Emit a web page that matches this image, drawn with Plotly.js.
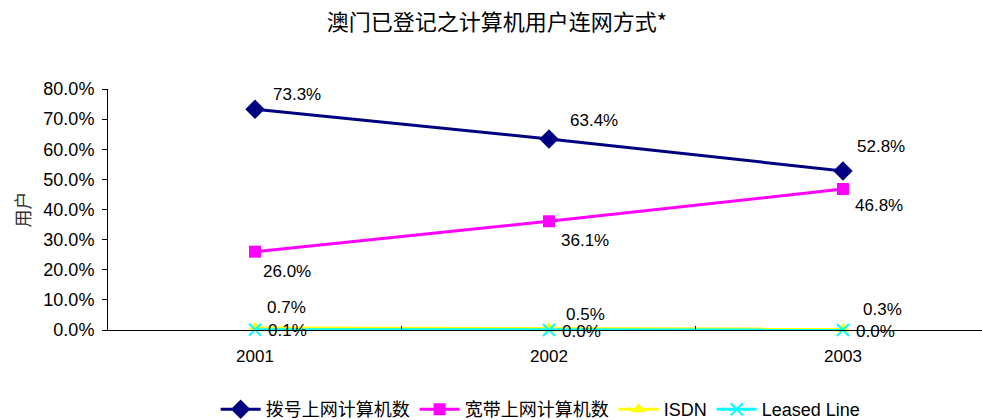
<!DOCTYPE html>
<html><head><meta charset="utf-8">
<script src="https://cdn.plot.ly/plotly-3.0.1.min.js"></script>
<style>body{margin:0;padding:0;background:#fff}#chart{width:982px;height:420px}</style>
</head><body><div id="chart"></div>
<script>
const years = ['2001', '2002', '2003'];
const dialup = [73.3, 63.4, 52.8];
const broadband = [26.0, 36.1, 46.8];
const isdn = [0.7, 0.5, 0.3];
const leased = [0.1, 0.0, 0.0];
const names = ['拨号上网计算机数', '宽带上网计算机数', 'ISDN', 'Leased Line'];
const yTicks = [0, 10, 20, 30, 40, 50, 60, 70, 80];

const font = '"Liberation Sans", Arial, sans-serif';
const cjk = '"Noto Sans CJK SC", sans-serif';
const mixed = '"Liberation Sans", "Noto Sans CJK SC", sans-serif';

function tr(y, name, color, symbol, size) {
  return {x: years, y: y, name: name, type: 'scatter', mode: 'lines+markers',
    line: {color: color, width: 3},
    marker: {color: color, symbol: symbol, size: size, line: {color: color, width: symbol === 'x-thin' ? 2 : 0}},
    cliponaxis: false};
}
const traces = [
  tr(dialup, names[0], '#000080', 'diamond', 15),
  tr(broadband, names[1], '#FF00FF', 'square', 12),
  tr(isdn, names[2], '#FFFF00', 'triangle-up', 12),
  tr(leased, names[3], '#00FFFF', 'x-thin', 12)
];

const ann = [];
function addLabels(vals, dxs, dys) {
  vals.forEach((v, i) => ann.push({x: i, y: v, xref: 'x', yref: 'y', text: v.toFixed(1) + '%', showarrow: false,
    xshift: dxs[i], yshift: dys[i], font: {family: font, size: 17, color: '#000'}}));
}
addLabels(dialup, [42, 45, 38], [15, 19, 24]);
addLabels(broadband, [32, 36, 36], [-20, -19, -16]);
addLabels(isdn, [32, 37, 40], [20, 14, 20]);
addLabels(leased, [33, 33, 33], [-1, -1, -1]);

const layout = {
  width: 982, height: 420,
  margin: {l: 108, r: 0, t: 89, b: 90, autoexpand: false},
  paper_bgcolor: '#fff', plot_bgcolor: '#fff',
  title: {text: '澳门已登记之计算机用户连网方式*', font: {family: cjk, size: 22, color: '#000'}, x: 0.506, xanchor: 'center', y: 0.948, yanchor: 'middle'},
  xaxis: {type: 'category', range: [-0.5, 2.473], showgrid: false, showline: true, linecolor: '#000', linewidth: 1,
    ticks: 'inside', tickson: 'boundaries', ticklen: 4, tickcolor: '#000', ticklabelstandoff: 11,
    tickfont: {family: font, size: 17, color: '#000'}, zeroline: false, fixedrange: true, automargin: false},
  yaxis: {range: [0, 80], tickvals: yTicks, ticktext: yTicks.map(v => v.toFixed(1) + '%'),
    showgrid: false, showline: true, linecolor: '#000', linewidth: 1, ticks: 'outside', ticklen: 5, tickcolor: '#000',
    ticklabelstandoff: 4, automargin: false,
    tickfont: {family: font, size: 18, color: '#000'}, zeroline: false,
    title: {text: '用户', font: {family: cjk, size: 18, color: '#333'}, standoff: 8}},
  showlegend: true,
  legend: {orientation: 'h', x: 0.495, xanchor: 'center', y: -0.33, yanchor: 'middle',
    font: {family: mixed, size: 18, color: '#000'}, itemwidth: 40, tracegroupgap: 0},
  annotations: ann
};
Plotly.newPlot('chart', traces, layout, {displayModeBar: false, staticPlot: true});
</script></body></html>
